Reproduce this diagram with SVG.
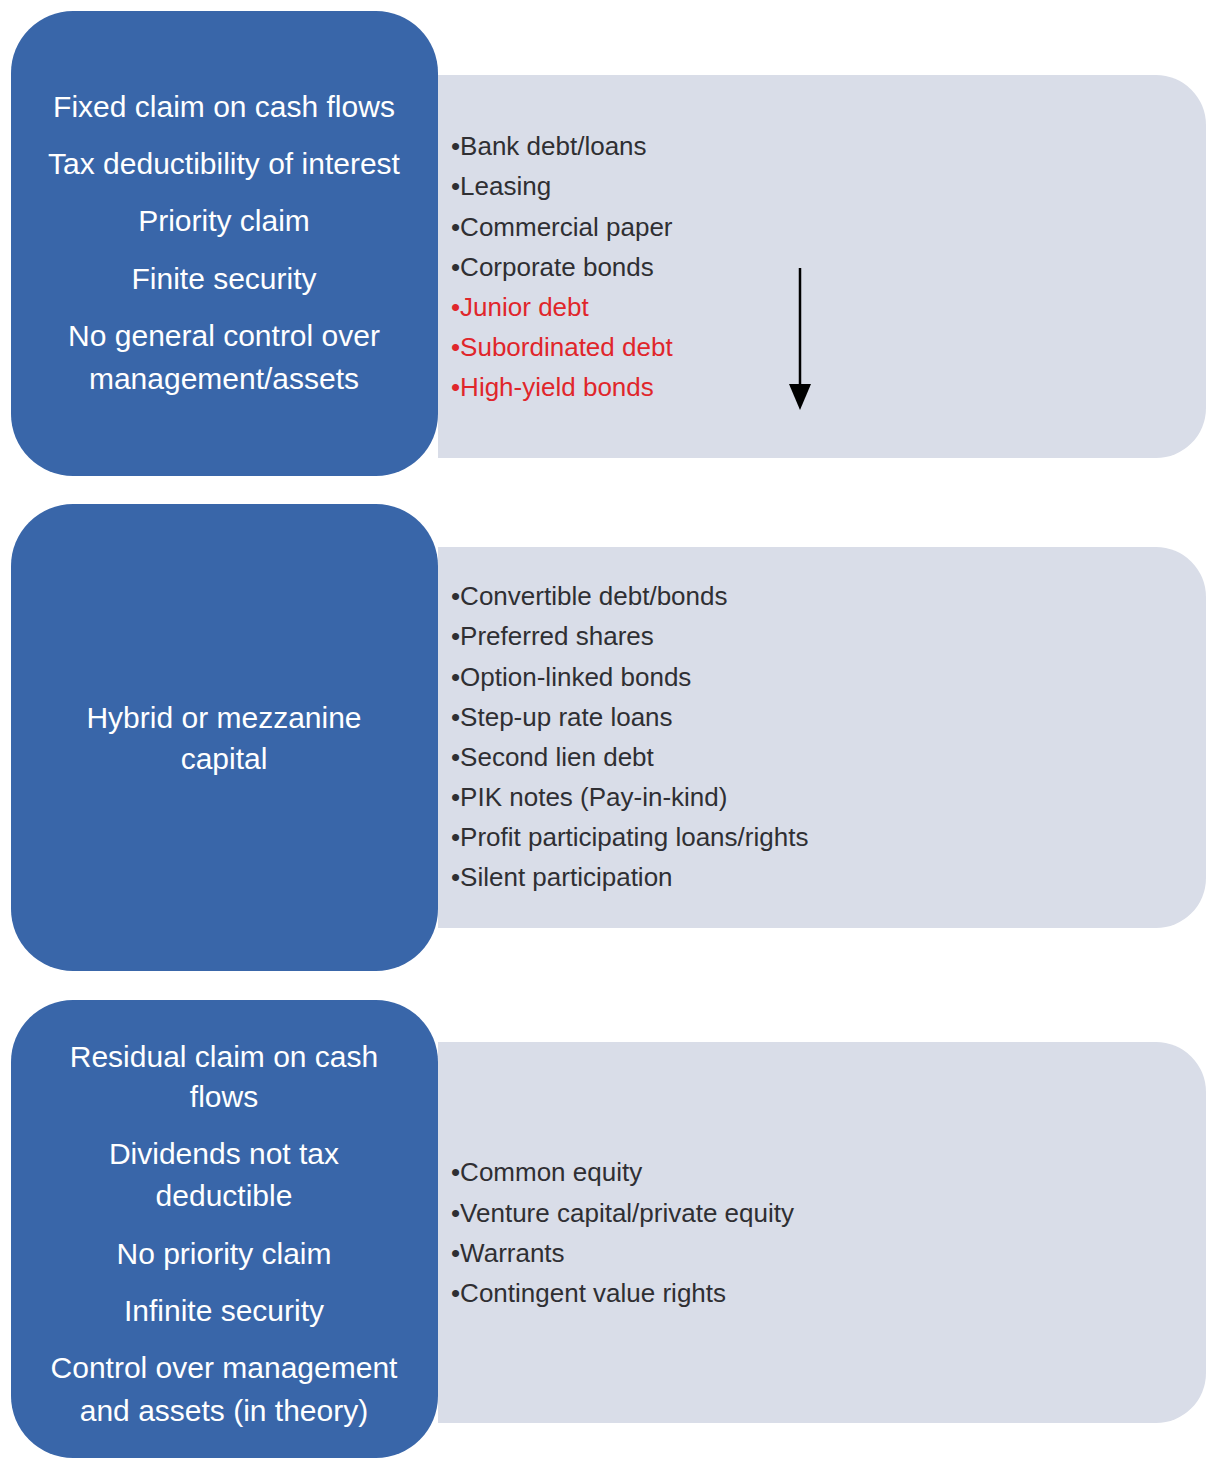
<svg xmlns="http://www.w3.org/2000/svg" width="1206" height="1460" viewBox="0 0 1206 1460">
<style>
.blue{fill:#3966a9;}
.panel{fill:#d9dde8;}
.head{font-family:"Liberation Sans",Arial,sans-serif;font-size:30px;fill:#ffffff;text-anchor:middle;}
.item{font-family:"Liberation Sans",Arial,sans-serif;font-size:26px;fill:#2f2f33;}
.red{fill:#e0262b;}
.conn{stroke:#000000;stroke-width:2.5;fill:none;}
</style>
<defs>
<marker id="arrowhead" markerUnits="userSpaceOnUse" markerWidth="26" markerHeight="22" refX="0" refY="11" orient="auto">
<path d="M0,0 L26,11 L0,22 Z" fill="#000000"/>
</marker>
</defs>
<rect width="1206" height="1460" fill="#ffffff"/>

<g id="panel-debt">
<path class="panel" d="M438,75 H1156 A50,50 0 0 1 1206,125 V408 A50,50 0 0 1 1156,458 H438 Z"/>
<text class="item" x="451" y="155">•Bank debt/loans</text>
<text class="item" x="451" y="195">•Leasing</text>
<text class="item" x="451" y="236">•Commercial paper</text>
<text class="item" x="451" y="276">•Corporate bonds</text>
<text class="item red" x="451" y="316">•Junior debt</text>
<text class="item red" x="451" y="356">•Subordinated debt</text>
<text class="item red" x="451" y="396">•High-yield bonds</text>
</g>

<g id="panel-hybrid">
<path class="panel" d="M438,547 H1156 A50,50 0 0 1 1206,597 V878 A50,50 0 0 1 1156,928 H438 Z"/>
<text class="item" x="451" y="605">•Convertible debt/bonds</text>
<text class="item" x="451" y="645">•Preferred shares</text>
<text class="item" x="451" y="686">•Option-linked bonds</text>
<text class="item" x="451" y="726">•Step-up rate loans</text>
<text class="item" x="451" y="766">•Second lien debt</text>
<text class="item" x="451" y="806">•PIK notes (Pay-in-kind)</text>
<text class="item" x="451" y="846">•Profit participating loans/rights</text>
<text class="item" x="451" y="886">•Silent participation</text>
</g>

<g id="panel-equity">
<path class="panel" d="M438,1042 H1156 A50,50 0 0 1 1206,1092 V1373 A50,50 0 0 1 1156,1423 H438 Z"/>
<text class="item" x="451" y="1181">•Common equity</text>
<text class="item" x="451" y="1222">•Venture capital/private equity</text>
<text class="item" x="451" y="1262">•Warrants</text>
<text class="item" x="451" y="1302">•Contingent value rights</text>
</g>

<g id="node-debt">
<rect class="blue" x="11" y="11" width="427" height="465" rx="62" ry="62"/>
<text class="head" x="224" y="117">Fixed claim on cash flows</text>
<text class="head" x="224" y="174">Tax deductibility of interest</text>
<text class="head" x="224" y="231">Priority claim</text>
<text class="head" x="224" y="289">Finite security</text>
<text class="head" x="224" y="346">No general control over</text>
<text class="head" x="224" y="389">management/assets</text>
</g>

<g id="node-hybrid">
<rect class="blue" x="11" y="504" width="427" height="467" rx="62" ry="62"/>
<text class="head" x="224" y="728">Hybrid or mezzanine</text>
<text class="head" x="224" y="769">capital</text>
</g>

<g id="node-equity">
<rect class="blue" x="11" y="1000" width="427" height="458" rx="62" ry="62"/>
<text class="head" x="224" y="1067">Residual claim on cash</text>
<text class="head" x="224" y="1107">flows</text>
<text class="head" x="224" y="1164">Dividends not tax</text>
<text class="head" x="224" y="1206">deductible</text>
<text class="head" x="224" y="1264">No priority claim</text>
<text class="head" x="224" y="1321">Infinite security</text>
<text class="head" x="224" y="1378">Control over management</text>
<text class="head" x="224" y="1421">and assets (in theory)</text>
</g>

<g id="connectors">
<line class="conn" x1="800" y1="268" x2="800" y2="384" marker-end="url(#arrowhead)"/>
</g>
</svg>
